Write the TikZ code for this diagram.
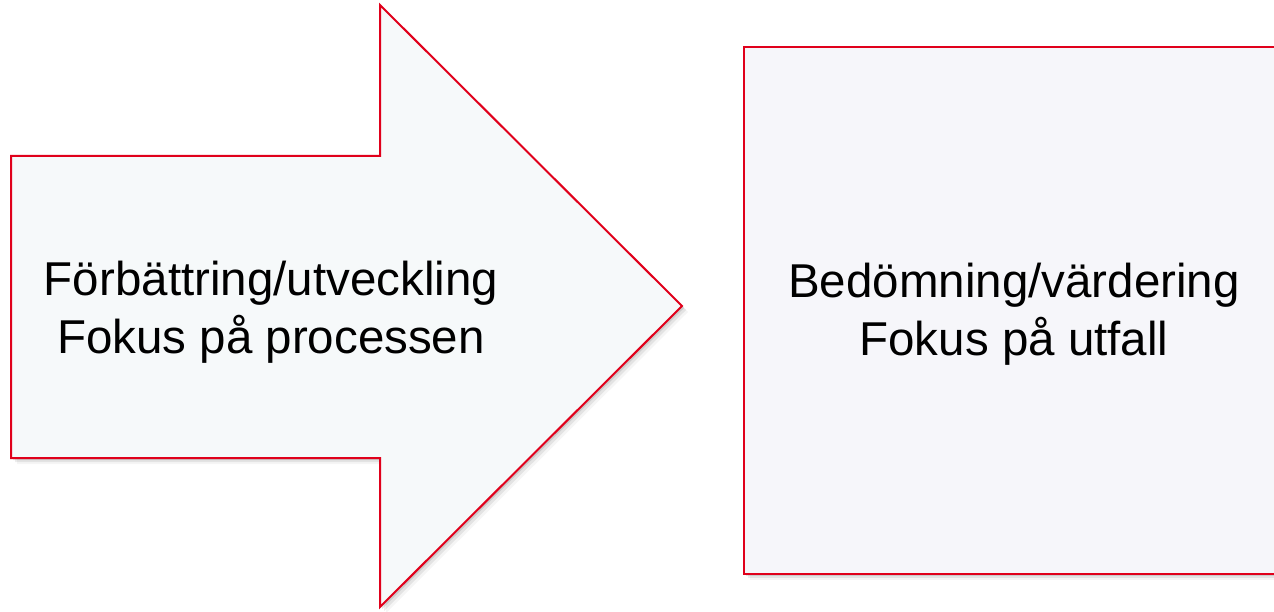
\documentclass[tikz,border=0pt]{standalone}
\usepackage{fontspec}
\setmainfont{Liberation Sans}
\definecolor{edgered}{HTML}{E0001B}
\definecolor{arrowfill}{HTML}{F6F9FA}
\definecolor{boxfill}{HTML}{F6F6FA}
\begin{document}
\begin{tikzpicture}[x=1pt,y=-1pt,
  shapeline/.style={draw=edgered,line width=2pt,line join=miter},
  lbl/.style={align=center,font=\fontsize{47.5}{58}\selectfont,inner sep=0pt,text=black}]
\useasboundingbox (0,0) rectangle (1274,612);
\clip (0,0) rectangle (1274,612);
\fill[white] (0,0) rectangle (1274,612);
% shadows
\foreach \d/\o in {2/0.10,4/0.07,6/0.04}{
  \fill[black,opacity=\o] (11+\d,156+\d) -- (380+\d,156+\d) -- (380+\d,5+\d) -- (682+\d,306+\d) -- (380+\d,607+\d) -- (380+\d,458+\d) -- (11+\d,458+\d) -- cycle;
  \fill[black,opacity=\o] (744+\d,47+\d) rectangle (1300,574+\d);
}
\path[shapeline,fill=arrowfill] (11,156) -- (380,156) -- (380,5) -- (682,306) -- (380,607) -- (380,458) -- (11,458) -- cycle;
\path[shapeline,fill=boxfill] (744,47) rectangle (1300,574);
\node[lbl] (a) at (271,312) {Förbättring/utveckling\\Fokus på processen};
\node[lbl] (b) at (1014,314) {Bedömning/värdering\\Fokus på utfall};
\end{tikzpicture}
\end{document}
